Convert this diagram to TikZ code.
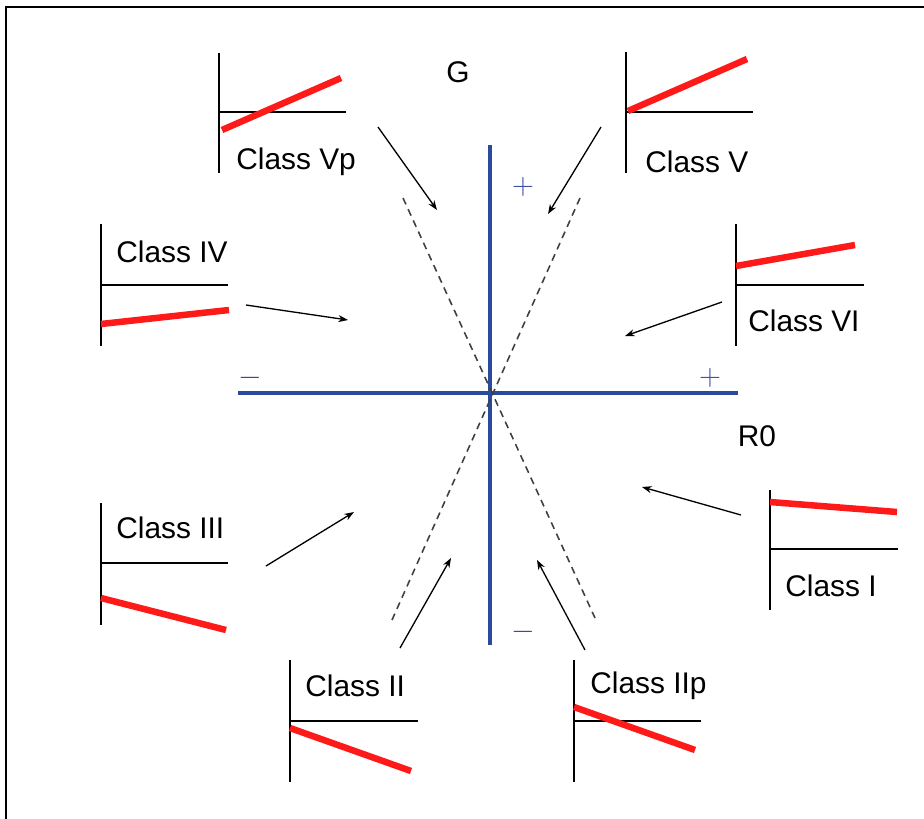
\documentclass[tikz,border=0pt]{standalone}
\usepackage{fontspec}
\setmainfont{Liberation Sans}
\usetikzlibrary{arrows.meta, positioning, calc}
\definecolor{axblue}{HTML}{2A4A9C}
\definecolor{sgnblue}{HTML}{3A4AA0}
\definecolor{fitred}{HTML}{FF1A1A}
\definecolor{dashgray}{HTML}{404040}

\begin{document}
\begin{tikzpicture}[
  x=0.02cm, y=-0.02cm,
  >={Stealth[length=5.5pt, width=4pt]},
  minax/.style={black, line width=1pt},
  fitline/.style={fitred, line width=3.7pt},
  flow/.style={->, black, line width=0.75pt},
  guide/.style={dashgray, line width=0.9pt, dash pattern=on 4pt off 3pt},
  cls/.style={font=\fontsize{17}{20}\selectfont, text=black, anchor=west, inner sep=0pt},
  sgn/.style={font=\fontsize{16}{18}\selectfont, text=sgnblue, inner sep=0pt},
]

% Canvas
\useasboundingbox (0,0) rectangle (924,819);
\draw[black, line width=1.5pt] (6,819) -- (6,7) -- (924,7);

% ========================================
% Main axes
% ========================================
\coordinate (o) at (490,393);
\draw[axblue, line width=2.2pt] (238,393) -- (738,393);
\draw[axblue, line width=2.2pt] (490,145) -- (490,645);

\node[font=\fontsize{17}{20}\selectfont] (glab) at (458,72) {G};
\node[font=\fontsize{17}{20}\selectfont] (rlab) at (757,436) {R0};

\node[sgn] (gplus) at (523,187) {$+$};
\node[sgn] (gminus) at (523,632) {$-$};
\node[sgn] (rplus) at (710,378) {$+$};
\node[sgn] (rminus) at (250,378) {$-$};

% Dashed guides
\draw[guide] (403,198) -- (595,618);
\draw[guide] (580,198) -- (392,620);

% ========================================
% Class Vp (top left)
% ========================================
\draw[minax] (219,53) -- (219,173);
\draw[minax] (219,112) -- (346,112);
\draw[fitline] (222,130) -- (341,78);
\node[cls] (vp) at (236,162) {Class Vp};

% ========================================
% Class V (top right)
% ========================================
\draw[minax] (626,52) -- (626,173);
\draw[minax] (626,112) -- (753,112);
\draw[fitline] (628,111) -- (747,59);
\node[cls] (v) at (645,162) {Class V};

% ========================================
% Class IV (left)
% ========================================
\draw[minax] (101,224) -- (101,346);
\draw[minax] (101,285) -- (228,285);
\draw[fitline] (101,324) -- (229,310);
\node[cls] (iv) at (116,252) {Class IV};

% ========================================
% Class VI (right)
% ========================================
\draw[minax] (736,224) -- (736,346);
\draw[minax] (736,285) -- (864,285);
\draw[fitline] (736,266) -- (855,245);
\node[cls] (vi) at (748,321) {Class VI};

% ========================================
% Class III (lower left)
% ========================================
\draw[minax] (101,503) -- (101,625);
\draw[minax] (101,563) -- (228,563);
\draw[fitline] (101,598) -- (226,630);
\node[cls] (iii) at (116,528) {Class III};

% ========================================
% Class I (lower right)
% ========================================
\draw[minax] (770,490) -- (770,610);
\draw[minax] (770,549) -- (898,549);
\draw[fitline] (770,502) -- (897,512);
\node[cls] (i) at (785,586) {Class I};

% ========================================
% Class II (bottom left)
% ========================================
\draw[minax] (290,660) -- (290,782);
\draw[minax] (290,721) -- (418,721);
\draw[fitline] (290,728) -- (411,771);
\node[cls] (ii) at (305,686) {Class II};

% ========================================
% Class IIp (bottom right)
% ========================================
\draw[minax] (574,660) -- (574,782);
\draw[minax] (574,721) -- (701,721);
\draw[fitline] (574,707) -- (695,750);
\node[cls] (iip) at (590,686) {Class IIp};

% ========================================
% Arrows towards the origin
% ========================================
\coordinate (vpA) at (378,127);   \coordinate (vpB) at (437,210);
\coordinate (vA) at (601,127);    \coordinate (vB) at (548,214);
\coordinate (ivA) at (246,305);   \coordinate (ivB) at (348,320);
\coordinate (viA) at (722,302);   \coordinate (viB) at (625,336);
\coordinate (iiiA) at (266,566);  \coordinate (iiiB) at (354,512);
\coordinate (iA) at (741,515);    \coordinate (iB) at (642,487);
\coordinate (iiA) at (400,648);   \coordinate (iiB) at (451,558);
\coordinate (iipA) at (585,650);  \coordinate (iipB) at (537,560);

\draw[flow] (vpA) -- (vpB);
\draw[flow] (vA) -- (vB);
\draw[flow] (ivA) -- (ivB);
\draw[flow] (viA) -- (viB);
\draw[flow] (iiiA) -- (iiiB);
\draw[flow] (iA) -- (iB);
\draw[flow] (iiA) -- (iiB);
\draw[flow] (iipA) -- (iipB);

\end{tikzpicture}
\end{document}
